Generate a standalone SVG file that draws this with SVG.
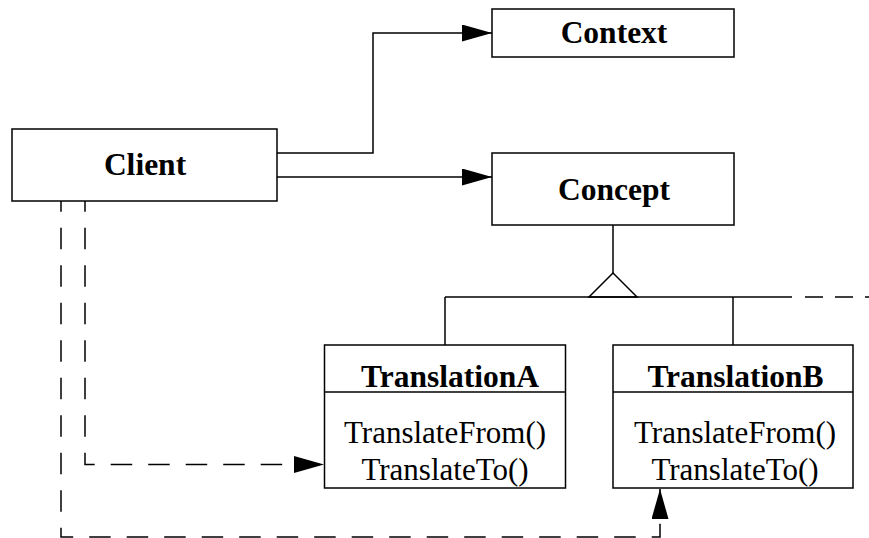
<svg xmlns="http://www.w3.org/2000/svg" width="869" height="538" viewBox="0 0 869 538">
<style>
.box{fill:#fff;stroke:#000;stroke-width:1.5}
.ln{fill:none;stroke:#000;stroke-width:1.5}
.dash{fill:none;stroke:#000;stroke-width:1.5;stroke-dasharray:21.5 16;stroke-dashoffset:10.8}
.t{font-family:"Liberation Serif","Times New Roman",serif;font-size:31px;text-anchor:middle;fill:#000}
.b{font-weight:bold;font-size:31.5px}
</style>
<defs>
<marker id="arr" markerUnits="userSpaceOnUse" markerWidth="31" markerHeight="18" refX="30" refY="8.5" orient="auto" viewBox="0 0 31 18">
<path d="M0,0 L30,8.5 L0,17 z" fill="#000"/>
</marker>
</defs>
<g id="connectors">
<path class="ln" d="M277,153 H373 V33 H492" marker-end="url(#arr)"/>
<path class="ln" d="M277,177 H492" marker-end="url(#arr)"/>
<path class="ln" d="M613,225 V273"/>
<polygon class="ln" points="613,273 589,297 637,297" style="fill:#fff"/>
<path class="ln" d="M445,297 H792"/>
<path class="ln" d="M805,297 H869" style="stroke-dasharray:18 12"/>
<path class="ln" d="M445,297 V345"/>
<path class="ln" d="M733,297 V345"/>
<path class="dash" d="M85,201 V464.5 H324" marker-end="url(#arr)"/>
<path class="dash" d="M61,201 V537 H660 V489" marker-end="url(#arr)"/>
</g>
<g id="client">
<rect class="box" x="12" y="129" width="265" height="72"/>
<text class="t b" x="145" y="175">Client</text>
</g>
<g id="context">
<rect class="box" x="492" y="9" width="242" height="48"/>
<text class="t b" x="614" y="43">Context</text>
</g>
<g id="concept">
<rect class="box" x="492" y="153" width="242" height="72"/>
<text class="t b" x="614" y="200">Concept</text>
</g>
<g id="translationA">
<rect class="box" x="324.5" y="345" width="241" height="143"/>
<path class="ln" d="M324.5,392 H565.5"/>
<text class="t b" x="450" y="387">TranslationA</text>
<text class="t" x="445" y="443">TranslateFrom()</text>
<text class="t" x="445" y="480">TranslateTo()</text>
</g>
<g id="translationB">
<rect class="box" x="613" y="345" width="240" height="143"/>
<path class="ln" d="M613,392 H853"/>
<text class="t b" x="735.5" y="387">TranslationB</text>
<text class="t" x="735" y="443">TranslateFrom()</text>
<text class="t" x="735" y="480">TranslateTo()</text>
</g>
</svg>
